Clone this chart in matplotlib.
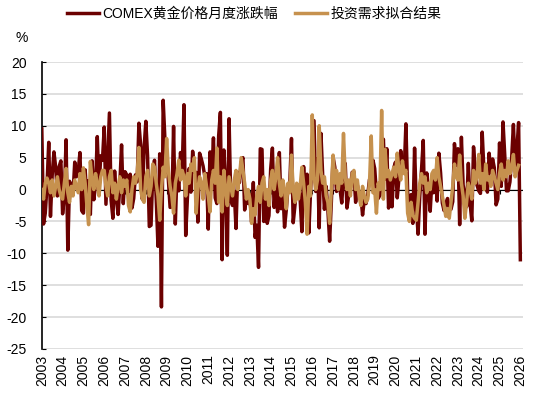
import numpy as np
import matplotlib
matplotlib.use("Agg")
import matplotlib.pyplot as plt

plt.rcParams['font.family'] = ['Liberation Sans', 'Noto Sans CJK SC', 'DejaVu Sans']
plt.rcParams['axes.unicode_minus'] = False

# COMEX gold monthly change (%), Jan 2003 .. Jan 2026
gold_by_year = {
    2003: [9.5, -5.4, -3.7, 0.6, 7.4, -4.2, 2.3, 5.9, 3.5, -1.0, 3.6, 4.5],
    2004: [-3.8, -1.0, 7.8, -9.5, 1.3, 0.3, -0.8, 4.3, 2.0, 2.9, 5.8, -3.3],
    2005: [-3.7, 3.1, -1.4, 1.4, -3.9, 4.5, -1.6, 0.7, 8.3, 0.2, 5.3, 4.6],
    2006: [9.8, -2.3, 4.7, 12.0, -1.7, -4.5, 2.9, -1.4, -3.9, 0.8, 7.0, -2.2],
    2007: [2.8, 2.3, -0.3, 2.4, -2.9, -1.4, 2.3, 1.2, 10.4, 7.0, -1.5, 6.5],
    2008: [10.7, 5.3, -5.8, -5.6, 2.5, 4.6, -1.5, -8.9, 5.6, -18.4, 14.0, 7.9],
    2009: [5.0, 1.5, -2.8, -2.7, 9.9, -5.4, 3.1, -0.2, 5.8, 3.2, 13.3, -7.2],
    2010: [-1.2, 3.3, -0.4, 6.0, 2.7, 2.7, -5.1, 5.7, 4.8, 3.7, 2.1, 2.5],
    2011: [-6.2, 5.9, 2.0, 8.1, -1.3, -2.2, 8.4, 12.1, -11.0, 6.2, 1.2, -10.3],
    2012: [11.1, -1.7, -2.5, -0.3, -6.1, 2.7, 1.1, 4.3, 5.0, -3.2, -0.3, -2.2],
    2013: [-0.8, -5.1, 1.1, -7.5, -5.6, -12.2, 6.4, 6.3, -5.0, -0.3, -5.3, -4.1],
    2014: [3.2, 6.5, -2.8, 0.9, -3.5, 5.8, -3.0, 0.3, -5.9, -3.2, 0.3, 0.8],
    2015: [8.0, -5.2, -2.5, 0.0, 0.6, -1.5, -6.6, 3.6, -1.8, 2.4, -6.8, -0.3],
    2016: [5.3, 10.8, -0.3, 4.8, -6.0, 8.8, 2.2, -3.1, 0.5, -3.2, -8.1, -1.9],
    2017: [5.1, 3.5, -0.3, 1.5, 0.0, -2.1, 2.3, 4.1, -2.9, -0.9, 0.3, 2.7],
    2018: [2.8, -2.0, 0.7, -0.8, -0.9, -4.0, -1.6, -2.2, -0.8, 1.6, 0.9, 4.6],
    2019: [3.3, -0.6, -1.4, -0.9, 1.9, 7.9, 1.6, 6.4, -2.9, 2.0, -2.7, 3.4],
    2020: [4.3, -1.3, 1.8, 6.1, 3.4, 2.8, 10.3, -0.4, -4.2, -0.8, -5.3, 6.5],
    2021: [-2.4, -7.0, -1.0, 3.1, 7.7, -7.0, 2.6, 0.0, -3.4, 1.5, -0.5, 3.0],
    2022: [-1.8, 5.7, 2.6, -2.1, -3.3, -2.2, -1.4, -3.1, -3.1, -1.9, 7.2, 3.8],
    2023: [6.4, -5.5, 8.2, 0.7, -0.9, -2.7, 4.1, -2.1, -4.9, 6.7, 3.1, 0.7],
    2024: [-0.2, -0.6, 9.0, 2.9, 1.9, -0.4, 5.7, 2.6, 4.8, 3.4, -2.4, -1.5],
    2025: [7.3, 0.5, 10.6, 5.4, -0.2, -0.2, 1.2, 5.0, 10.2, 3.3, 6.3, 10.5],
    2026: [-11.0],
}

# investment-demand fitted value (%), Jan 2003 .. Dec 2025
fit_by_year = {
    2003: [0.0, -1.5, 1.0, 1.8, 1.0, -0.5, 1.5, -1.0, 0.5, 2.0, 0.0, -1.0],
    2004: [-1.5, 1.0, 3.3, -0.5, -2.0, 0.5, -1.0, 1.5, 0.5, -0.5, 2.5, 0.0],
    2005: [3.4, 1.0, -2.5, -5.5, 4.4, 1.5, 0.0, 2.5, 1.0, -1.0, 2.0, 3.0],
    2006: [3.0, 0.5, -1.0, 2.0, 3.0, -0.5, 1.0, -1.5, 0.5, 2.0, -0.5, 1.5],
    2007: [0.5, 1.5, -2.5, -3.5, 0.0, 2.0, 1.0, 2.5, 6.6, 0.0, -1.5, -2.0],
    2008: [2.0, 3.0, -1.0, 0.5, 4.0, 3.5, 1.0, -1.0, -4.8, 0.0, 3.5, 2.0],
    2009: [8.0, 3.0, 0.5, -1.0, -3.7, 1.0, 2.5, 4.6, 1.5, 3.0, 2.0, -1.0],
    2010: [2.5, 1.0, 4.0, 3.0, 5.0, -3.7, 0.0, 2.0, 1.0, -1.5, 2.5, 0.5],
    2011: [-1.0, -3.5, 1.5, 3.0, 1.0, 6.5, -2.0, 2.0, -3.5, 3.0, 0.0, -2.5],
    2012: [2.0, 0.5, -1.0, 1.5, 3.0, 0.0, 2.0, 5.0, 3.0, 1.0, -1.5, 0.0],
    2013: [-1.5, -5.3, -3.0, -4.0, -1.0, 0.5, -2.0, 1.0, 2.0, -1.5, 0.0, -2.5],
    2014: [1.5, 3.0, 0.0, 2.0, 5.0, 1.0, -1.0, 1.5, 0.0, -3.0, 1.0, -0.5],
    2015: [5.4, 0.0, -2.0, 1.0, -1.5, 0.5, 3.5, 1.0, -2.0, -7.0, 0.5, -1.0],
    2016: [11.7, 2.0, 0.0, 1.5, 10.0, 3.0, 1.0, 2.0, -1.0, -2.0, -5.3, 0.0],
    2017: [5.4, 1.0, 3.0, 0.0, 2.5, 1.0, 8.8, 2.0, 0.0, 1.5, -1.0, 2.5],
    2018: [3.0, 0.0, 1.5, -1.0, -2.5, 0.5, -1.0, -2.0, -1.5, 1.0, 8.4, -0.5],
    2019: [0.0, -3.7, 1.0, 0.0, 12.4, -1.5, 6.3, 2.0, 3.0, 1.5, 2.5, 3.5],
    2020: [2.0, 5.7, 3.0, 1.5, 4.5, 2.5, 3.0, -3.7, -5.0, -2.0, -4.0, -4.5],
    2021: [-4.8, -2.0, 1.0, 2.5, 1.0, 2.0, -0.5, 1.0, 0.0, 2.5, 3.0, 1.5],
    2022: [5.0, 2.0, 0.5, -1.0, -2.5, -4.2, -3.0, -4.5, -2.0, 0.5, 4.0, 2.0],
    2023: [1.5, 5.4, 1.0, -1.0, -4.5, -2.0, 1.0, 0.0, -1.5, 3.0, 1.0, 2.0],
    2024: [5.5, 1.0, 2.5, 0.0, 4.0, 1.5, 2.0, 0.5, 3.0, 2.0, 1.0, 0.0],
    2025: [2.5, 4.0, 1.5, 3.0, 2.0, 4.5, 2.5, 3.5, 5.5, 2.0, 3.0, 3.8],
}

years = list(range(2003, 2027))
gold = np.array([v for y in gold_by_year for v in gold_by_year[y]])
fit = np.array([v for y in fit_by_year for v in fit_by_year[y]])
t_gold = 2003 + np.arange(len(gold)) / 12
t_fit = 2003 + np.arange(len(fit)) / 12

fig = plt.figure(figsize=(5.5, 4), dpi=100)
ax = fig.add_axes([0.076, 0.1275, 0.875, 0.7175])

ax.plot(t_gold, gold, color='#6B0000', lw=2.5, label='COMEX黄金价格月度涨跌幅', zorder=3)
ax.plot(t_fit, fit, color='#C6914E', lw=2.5, label='投资需求拟合结果', zorder=4)
ax.axhline(0, color='black', lw=0.8, zorder=2)

ax.set_xlim(2003, 2026.13)
ax.set_ylim(-25, 20)
ax.set_yticks(range(-25, 21, 5))
ax.set_xticks(years)
ax.set_xticklabels([str(y) for y in years], rotation=90)
ax.tick_params(axis='x', length=0, pad=4, labelsize=10)
ax.tick_params(axis='y', direction='in', length=3, pad=11, labelsize=10)

ax.grid(axis='y', color='#D9D9D9', lw=1.2, zorder=0)
for s in ['top', 'right', 'bottom']:
    ax.spines[s].set_visible(False)
ax.spines['left'].set_linewidth(1.2)

# small tick marks on the zero line
zero_ax = ax.secondary_xaxis(25 / 45)
zero_ax.set_xticks(years)
zero_ax.tick_params(direction='in', length=3, labelbottom=False, labeltop=False)
zero_ax.spines['bottom'].set_visible(False)
zero_ax.spines['top'].set_visible(False)

fig.text(0.028, 0.895, '%', fontsize=10)
fig.legend(loc='upper center', bbox_to_anchor=(0.462, 1.015), ncol=2, frameon=False,
           fontsize=10, handlelength=2.3, handletextpad=0.2, columnspacing=1.3)

fig.savefig('out.png', dpi=100)
